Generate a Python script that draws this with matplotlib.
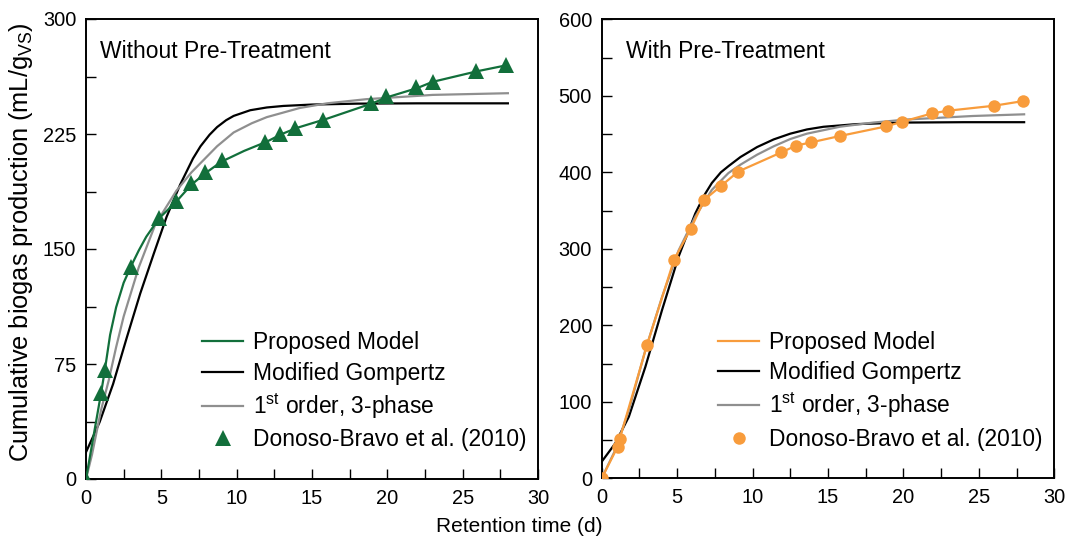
"""Cumulative biogas production with and without pre-treatment, model comparison."""

import matplotlib

matplotlib.use("Agg")

import matplotlib.pyplot as plt
from matplotlib.ticker import MultipleLocator

plt.rcParams["font.family"] = ["Liberation Sans", "DejaVu Sans"]
plt.rcParams["mathtext.fontset"] = "custom"
plt.rcParams["mathtext.rm"] = "Liberation Sans"
plt.rcParams["mathtext.it"] = "Liberation Sans"

GREEN = "#126f3b"
ORANGE = "#f89c3c"
GREY = "#8f8f8f"

# Donoso-Bravo et al. (2010), without pre-treatment
raw_days = [0, 1.0, 1.25, 3.0, 4.85, 6.0, 6.95, 7.9, 9.05, 11.9, 12.9, 13.9, 15.75,
            18.9, 19.9, 21.9, 23.0, 25.9, 27.85]
raw_biogas = [0, 56, 71, 138.5, 170, 181, 193, 200, 208, 220, 225, 229, 234,
              245, 249.5, 255.5, 259, 266, 270]

# model curves, without pre-treatment
raw_prop_days = [0, 0.5, 1.0, 1.25, 1.6, 2.0, 2.5, 3.0, 3.5, 4.0, 4.85, 6.0, 7.0, 8.0,
                 9.0, 10.5, 12.0, 13.0, 14.0, 16.0, 19.0, 20.0, 22.0, 23.0, 26.0, 28.0]
raw_prop_biogas = [0, 28, 56, 71, 94, 112, 128, 139, 149, 158, 170, 181, 192, 200,
                   207, 214, 220, 225, 229, 235, 245, 249, 255, 259, 266, 270]
raw_gomp_days = [0, 0.9, 1.8, 2.7, 3.6, 4.5, 5.35, 6.25, 7.1, 7.6, 8.2, 8.7, 9.3,
                 9.8, 10.9, 12.0, 13.1, 15.0, 18.0, 22.0, 28.0]
raw_gomp_biogas = [17.5, 37, 62, 92, 121, 147, 171, 192, 209, 217, 224.5, 229.5,
                   234, 236.8, 240.5, 242.3, 243.3, 244.2, 244.8, 245, 245]
raw_first_days = [0, 0.4, 1.0, 1.5, 2.0, 2.5, 3.5, 4.6, 6.0, 7.0, 7.8, 8.7, 9.8,
                  11.0, 12.0, 14.2, 16.0, 18.6, 23.0, 28.0]
raw_first_biogas = [0, 16, 45, 64, 86, 106, 138, 166, 188, 200, 208, 217, 226,
                    232, 236, 242, 245, 247.7, 250.5, 251.6]

# Donoso-Bravo et al. (2010), with pre-treatment
pre_days = [0, 1.05, 1.2, 3.0, 4.8, 5.9, 6.8, 7.9, 9.05, 11.9, 12.9, 13.85, 15.8,
            18.85, 19.9, 21.9, 22.95, 26.0, 27.9]
pre_biogas = [0, 41, 52, 174, 286, 326, 364, 382, 401, 426, 435, 439, 447.5,
              460, 466, 477, 480.5, 487, 493]

# model curves, with pre-treatment
pre_gomp_days = [0, 0.9, 1.8, 2.9, 4.0, 5.1, 6.2, 6.8, 7.3, 7.9, 8.4, 9.2, 10.3,
                 11.4, 12.5, 13.6, 14.7, 16.9, 20.0, 24.0, 28.0]
pre_gomp_biogas = [21.7, 45.7, 80.5, 146, 220, 290, 346, 370, 386, 400, 408, 420,
                   433, 443, 450.5, 456, 459.5, 463, 465, 465.5, 465.5]
pre_first_days = [0, 0.9, 1.8, 2.9, 4.0, 5.1, 6.2, 7.3, 8.4, 9.2, 10.3, 11.4, 12.5,
                  13.6, 15.8, 18.0, 20.2, 24.6, 28.0]
pre_first_biogas = [0, 37, 89, 168, 237, 298, 342, 377, 399, 410, 423, 434, 443.5,
                    450.5, 459.6, 465, 469, 473.6, 475.8]

LEGEND_LABELS = [
    "Proposed Model",
    "Modified Gompertz",
    "1$^{\\mathrm{st}}$ order, 3-phase",
    "Donoso-Bravo et al. (2010)",
]


def style_axis(ax, ymax, ystep, title, title_x):
    ax.set_xlim(0, 30)
    ax.set_ylim(0, ymax)
    ax.xaxis.set_major_locator(MultipleLocator(5))
    ax.xaxis.set_minor_locator(MultipleLocator(2.5))
    ax.yaxis.set_major_locator(MultipleLocator(ystep))
    ax.yaxis.set_minor_locator(MultipleLocator(ystep / 2))
    ax.tick_params(which="both", direction="in", length=7, width=1.0, labelsize=14.4)
    ax.tick_params(axis="x", which="both", pad=7)
    ax.tick_params(axis="y", which="both", pad=7)
    for spine in ax.spines.values():
        spine.set_linewidth(1.4)
    ax.text(title_x, 0.929, title, transform=ax.transAxes, fontsize=16.5,
            va="center", ha="left")


def draw_panel(ax, color, marker, msize, curves, data):
    (px, py), (gx, gy), (fx, fy) = curves
    h1, = ax.plot(px, py, color=color, lw=1.6, zorder=3)
    h2, = ax.plot(gx, gy, color="black", lw=1.6, zorder=2)
    h3, = ax.plot(fx, fy, color=GREY, lw=1.6, zorder=2)
    h4, = ax.plot(data[0], data[1], ls="none", marker=marker, ms=msize,
                  color=color, markeredgewidth=0, zorder=4)
    ax.legend([h1, h2, h3, h4], LEGEND_LABELS, loc="lower left",
              bbox_to_anchor=(0.257, 0.06), frameon=False, fontsize=16.4,
              handlelength=1.8, handletextpad=0.45, labelspacing=0.32,
              borderpad=0, borderaxespad=0)


def main() -> None:
    fig = plt.figure(figsize=(10.69, 5.41), dpi=100)
    ax_left = fig.add_axes([86 / 1069, 62 / 541, 452 / 1069, 460 / 541])
    ax_right = fig.add_axes([601.7 / 1069, 62.7 / 541, 452.6 / 1069, 459 / 541])

    draw_panel(
        ax_left, GREEN, "^", 11,
        [(raw_prop_days, raw_prop_biogas), (raw_gomp_days, raw_gomp_biogas),
         (raw_first_days, raw_first_biogas)],
        (raw_days, raw_biogas),
    )
    style_axis(ax_left, 300, 75, "Without Pre-Treatment", 0.03)

    draw_panel(
        ax_right, ORANGE, "o", 9,
        [(pre_days, pre_biogas), (pre_gomp_days, pre_gomp_biogas),
         (pre_first_days, pre_first_biogas)],
        (pre_days, pre_biogas),
    )
    style_axis(ax_right, 600, 100, "With Pre-Treatment", 0.054)

    fig.text(519 / 1069, 1 - 527 / 541, "Retention time (d)", fontsize=15,
             ha="center", va="center")
    fig.text(21 / 1069, 1 - 242 / 541, "Cumulative biogas production (mL/g$_{\\mathrm{VS}}$)",
             fontsize=18.3, rotation=90, ha="center", va="center")

    fig.savefig("out.png", dpi=100)
    plt.close(fig)


if __name__ == "__main__":
    main()
